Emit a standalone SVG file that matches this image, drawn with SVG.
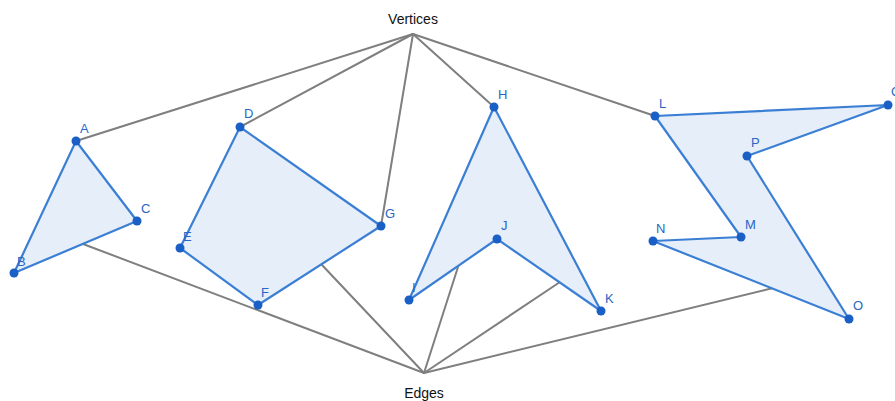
<svg xmlns="http://www.w3.org/2000/svg" width="895" height="401" viewBox="0 0 895 401">
  <style>
    .link { stroke: #7f7f7f; stroke-width: 2; fill: none; stroke-linecap: round; }
    .poly { fill: #e5eef9; stroke: #3b7fd4; stroke-width: 2.2; stroke-linejoin: round; }
    .pt { fill: #1a5fc6; }
    .lbl { font-family: "Liberation Sans", Arial, sans-serif; font-size: 13px; fill: #2a66c4; }
    .hub { font-family: "Liberation Sans", Arial, sans-serif; font-size: 14px; fill: #111; text-anchor: middle; }
  </style>

  <rect width="895" height="401" fill="#ffffff"/>

  <!-- connectors from the two hubs -->
  <g id="connectors">
    <line class="link" x1="413" y1="34" x2="76" y2="141"/>
    <line class="link" x1="413" y1="34" x2="240" y2="127"/>
    <line class="link" x1="413" y1="34" x2="381" y2="226"/>
    <line class="link" x1="413" y1="34" x2="494" y2="107"/>
    <line class="link" x1="413" y1="34" x2="655" y2="116"/>
    <line class="link" x1="424" y1="373" x2="83" y2="244"/>
    <line class="link" x1="424" y1="373" x2="322" y2="265"/>
    <line class="link" x1="424" y1="373" x2="458" y2="267"/>
    <line class="link" x1="424" y1="373" x2="560" y2="282"/>
    <line class="link" x1="424" y1="373" x2="773" y2="288"/>
  </g>

  <g id="vertices-hub">
    <text class="hub" x="413" y="24">Vertices</text>
  </g>
  <g id="edges-hub">
    <text class="hub" x="424" y="398">Edges</text>
  </g>

  <g id="triangle-abc">
    <polygon class="poly" points="76,141 14,273 137,221"/>
    <circle class="pt" cx="76" cy="141" r="4.5"/>
    <circle class="pt" cx="14" cy="273" r="4.5"/>
    <circle class="pt" cx="137" cy="221" r="4.5"/>
    <text class="lbl" x="80" y="133">A</text>
    <text class="lbl" x="17" y="266">B</text>
    <text class="lbl" x="141" y="213">C</text>
  </g>

  <g id="quad-defg">
    <polygon class="poly" points="240,127 180,248 258,305 381,226"/>
    <circle class="pt" cx="240" cy="127" r="4.5"/>
    <circle class="pt" cx="180" cy="248" r="4.5"/>
    <circle class="pt" cx="258" cy="305" r="4.5"/>
    <circle class="pt" cx="381" cy="226" r="4.5"/>
    <text class="lbl" x="244" y="118">D</text>
    <text class="lbl" x="183" y="241">E</text>
    <text class="lbl" x="261" y="297">F</text>
    <text class="lbl" x="385" y="218">G</text>
  </g>

  <g id="arrow-hijk">
    <polygon class="poly" points="494,107 409,300 497,239 601,311"/>
    <circle class="pt" cx="494" cy="107" r="4.5"/>
    <circle class="pt" cx="409" cy="300" r="4.5"/>
    <circle class="pt" cx="497" cy="239" r="4.5"/>
    <circle class="pt" cx="601" cy="311" r="4.5"/>
    <text class="lbl" x="498" y="99">H</text>
    <text class="lbl" x="412" y="292">I</text>
    <text class="lbl" x="501" y="230">J</text>
    <text class="lbl" x="605" y="303">K</text>
  </g>

  <g id="bolt-lqpomn">
    <polygon class="poly" points="655,116 888,105 747,156 849,319 653,241 741,237"/>
    <circle class="pt" cx="655" cy="116" r="4.5"/>
    <circle class="pt" cx="888" cy="105" r="4.5"/>
    <circle class="pt" cx="747" cy="156" r="4.5"/>
    <circle class="pt" cx="849" cy="319" r="4.5"/>
    <circle class="pt" cx="653" cy="241" r="4.5"/>
    <circle class="pt" cx="741" cy="237" r="4.5"/>
    <text class="lbl" x="659" y="108">L</text>
    <text class="lbl" x="891" y="96">Q</text>
    <text class="lbl" x="751" y="147">P</text>
    <text class="lbl" x="853" y="310">O</text>
    <text class="lbl" x="656" y="233">N</text>
    <text class="lbl" x="745" y="229">M</text>
  </g>
</svg>
